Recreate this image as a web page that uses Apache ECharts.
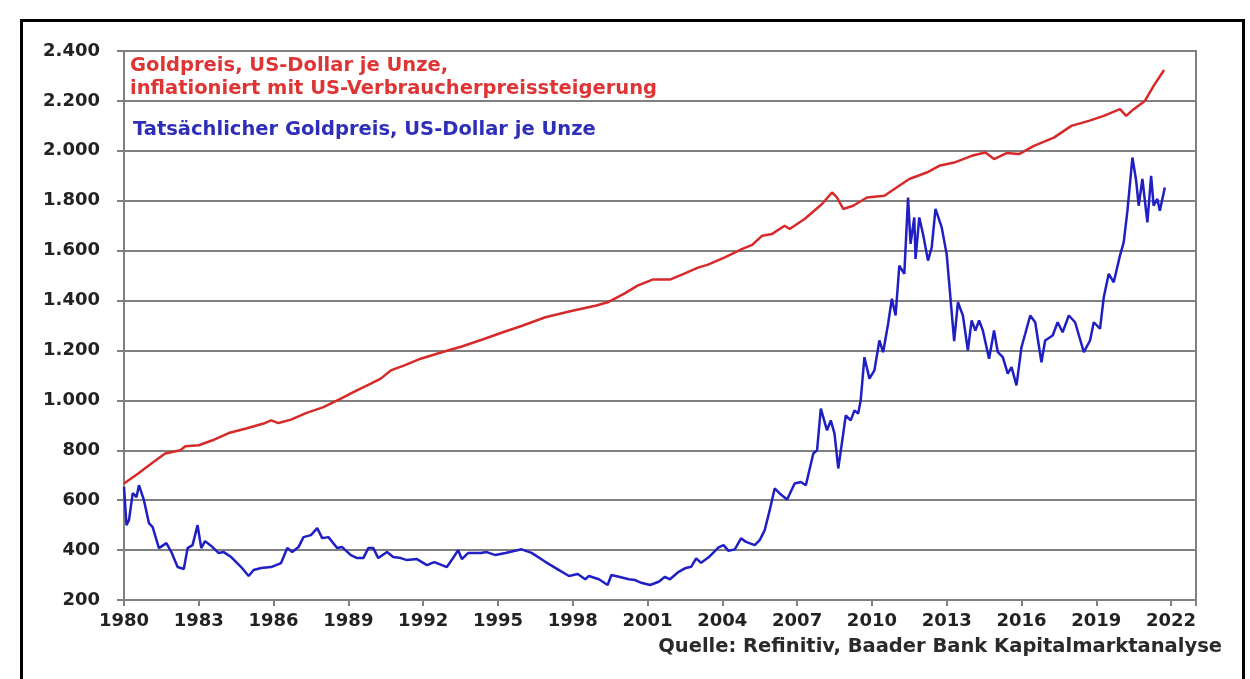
<!DOCTYPE html>
<html>
<head>
<meta charset="utf-8">
<script src="https://cdn.jsdelivr.net/npm/echarts@6/dist/echarts.min.js"></script>
<style>html,body{margin:0;padding:0;background:#fff}#chart{width:1250px;height:679px}</style>
</head>
<body>
<div id="chart"></div>
<script>
// Gold price, inflation-adjusted (red)
const redYears = [1980.0,1980.57,1981.1,1981.65,1982.26,1982.46,1983.0,1983.55,1984.2,1984.9,1985.6,1985.9,1986.2,1986.7,1987.3,1988.0,1988.7,1989.2,1989.9,1990.3,1990.7,1991.25,1991.9,1992.75,1993.55,1994.35,1995.2,1996.0,1996.9,1997.9,1998.95,1999.4,2000.05,2000.6,2001.2,2001.9,2002.45,2003.05,2003.4,2004.1,2004.8,2005.2,2005.6,2006.0,2006.5,2006.7,2007.3,2008.0,2008.4,2008.6,2008.85,2009.25,2009.8,2010.5,2010.9,2011.5,2012.2,2012.7,2013.3,2014.0,2014.55,2014.9,2015.4,2015.9,2016.5,2017.3,2018.0,2018.7,2019.3,2019.95,2020.2,2020.5,2020.95,2021.3,2021.72];
const redValues = [667,707,747,787,800,816,820,840,869,887,907,920,909,923,949,973,1007,1033,1067,1087,1120,1140,1167,1193,1216,1243,1273,1300,1333,1357,1380,1393,1427,1460,1484,1484,1507,1533,1543,1573,1607,1623,1660,1667,1700,1687,1727,1787,1833,1813,1767,1780,1813,1820,1847,1887,1913,1940,1953,1980,1993,1967,1991,1987,2020,2053,2100,2120,2140,2167,2140,2167,2200,2260,2324];

// Actual gold price (blue)
const blueYears = [1980.0,1980.1,1980.2,1980.35,1980.5,1980.6,1980.8,1981.0,1981.15,1981.4,1981.7,1981.9,1982.15,1982.4,1982.55,1982.75,1982.95,1983.1,1983.25,1983.55,1983.8,1984.0,1984.3,1984.7,1985.0,1985.2,1985.5,1985.9,1986.3,1986.55,1986.75,1987.0,1987.2,1987.5,1987.75,1987.95,1988.2,1988.55,1988.75,1989.1,1989.35,1989.6,1989.8,1990.0,1990.2,1990.55,1990.8,1991.1,1991.35,1991.75,1992.15,1992.45,1992.95,1993.2,1993.4,1993.55,1993.8,1994.3,1994.55,1994.9,1995.3,1995.95,1996.35,1996.9,1997.45,1997.85,1998.2,1998.5,1998.65,1999.05,1999.4,1999.55,1999.85,2000.25,2000.5,2000.75,2001.1,2001.45,2001.7,2001.9,2002.25,2002.5,2002.75,2002.95,2003.15,2003.45,2003.85,2004.05,2004.25,2004.5,2004.75,2004.95,2005.3,2005.5,2005.7,2005.9,2006.1,2006.3,2006.6,2006.9,2007.15,2007.35,2007.65,2007.8,2007.95,2008.2,2008.35,2008.5,2008.65,2008.85,2008.95,2009.15,2009.3,2009.45,2009.55,2009.7,2009.9,2010.1,2010.3,2010.45,2010.65,2010.8,2010.95,2011.1,2011.3,2011.45,2011.55,2011.7,2011.75,2011.9,2012.05,2012.25,2012.4,2012.55,2012.8,2013.0,2013.3,2013.45,2013.65,2013.85,2014.0,2014.15,2014.3,2014.45,2014.7,2014.9,2015.05,2015.25,2015.45,2015.6,2015.8,2016.0,2016.15,2016.35,2016.55,2016.8,2016.95,2017.25,2017.45,2017.65,2017.9,2018.15,2018.5,2018.75,2018.9,2019.15,2019.3,2019.5,2019.7,2019.95,2020.1,2020.25,2020.45,2020.6,2020.7,2020.85,2021.05,2021.2,2021.3,2021.45,2021.55,2021.75];
const blueValues = [653,500,520,628,612,660,600,508,492,408,428,392,332,324,408,420,500,408,436,412,388,392,372,332,296,320,328,332,348,408,392,412,452,460,488,448,452,408,412,380,368,368,408,408,368,392,372,368,360,364,340,352,332,368,400,364,388,388,392,380,388,403,389,353,320,296,304,283,296,283,260,300,293,283,280,269,260,273,293,283,313,327,333,367,349,371,411,420,397,403,447,433,420,440,480,560,647,627,603,667,673,660,787,800,967,880,920,867,727,867,940,920,960,947,1000,1173,1087,1120,1240,1193,1307,1407,1340,1540,1507,1813,1627,1733,1567,1733,1667,1560,1613,1767,1693,1585,1237,1393,1340,1200,1320,1280,1320,1280,1167,1280,1193,1173,1107,1133,1060,1213,1267,1340,1313,1153,1240,1260,1313,1273,1340,1313,1193,1240,1313,1287,1413,1507,1473,1580,1633,1760,1973,1880,1780,1887,1713,1900,1780,1807,1760,1853];

const xTickYears = [1980,1983,1986,1989,1992,1995,1998,2001,2004,2007,2010,2013,2016,2019,2022];
const yTicks = [200,400,600,800,1000,1200,1400,1600,1800,2000,2200,2400];

const redLabel1 = 'Goldpreis, US-Dollar je Unze,';
const redLabel2 = 'inflationiert mit US-Verbraucherpreissteigerung';
const blueLabel = 'Tatsächlicher Goldpreis, US-Dollar je Unze';
const sourceText = 'Quelle: Refinitiv, Baader Bank Kapitalmarktanalyse';

function zip(xs, ys) { return xs.map((x, i) => [x, ys[i]]); }
function deFmt(v) {
  if (v >= 1000) return Math.floor(v / 1000) + '.' + String(v % 1000).padStart(3, '0');
  return String(v);
}

const chart = echarts.init(document.getElementById('chart'), null, {renderer: 'canvas'});
const gridColor = '#808080';
const labelFont = {fontFamily: 'DejaVu Sans', fontWeight: 'bold', fontSize: 18, color: '#222'};
const textFont = 'bold 19.5px "DejaVu Sans"';

chart.setOption({
  animation: false,
  backgroundColor: '#ffffff',
  grid: {left: 124, right: 54, top: 51, bottom: 79, show: true, borderColor: gridColor, borderWidth: 2, backgroundColor: 'transparent'},
  xAxis: {
    type: 'value', min: xTickYears[0], max: 2023, interval: 3,
    axisLine: {show: true, lineStyle: {color: gridColor, width: 2}},
    axisTick: {show: true, length: 6, lineStyle: {color: gridColor, width: 2}},
    axisLabel: Object.assign({margin: 12, showMaxLabel: true,
      formatter: v => xTickYears.indexOf(Math.round(v * 1000) / 1000) >= 0 ? String(v) : ''}, labelFont),
    splitLine: {show: false}
  },
  yAxis: {
    type: 'value', min: yTicks[0], max: yTicks[yTicks.length - 1], interval: 200,
    axisLine: {show: true, lineStyle: {color: gridColor, width: 2}},
    axisTick: {show: true, length: 7, lineStyle: {color: gridColor, width: 2}},
    axisLabel: Object.assign({margin: 24, formatter: v => deFmt(v)}, labelFont),
    splitLine: {show: true, lineStyle: {color: gridColor, width: 2}}
  },
  series: [
    {type: 'line', name: redLabel1, data: zip(redYears, redValues), showSymbol: false, smooth: false,
     lineStyle: {color: '#d62a2a', width: 2.5}, z: 3},
    {type: 'line', name: blueLabel, data: zip(blueYears, blueValues), showSymbol: false, smooth: false,
     lineStyle: {color: '#1f1fc4', width: 2.5}, z: 4}
  ],
  graphic: [
    {type: 'rect', left: 19, top: 18, shape: {x: 0, y: 0, width: 1222, height: 700}, z: 100,
     style: {fill: 'none', stroke: '#000', lineWidth: 3}, silent: true},
    {type: 'text', x: 130, y: 66, z: 50, style: {text: redLabel1, fill: '#de3434', font: textFont, textVerticalAlign: 'middle'}},
    {type: 'text', x: 130, y: 89, z: 50, style: {text: redLabel2, fill: '#de3434', font: textFont, textVerticalAlign: 'middle'}},
    {type: 'text', x: 133, y: 130, z: 50, style: {text: blueLabel, fill: '#2e2eb8', font: textFont, textVerticalAlign: 'middle'}},
    {type: 'text', x: 1222, y: 647, z: 50, style: {text: sourceText, fill: '#2a2a2a', font: textFont, textAlign: 'right', textVerticalAlign: 'middle'}}
  ]
});
</script>
</body>
</html>
